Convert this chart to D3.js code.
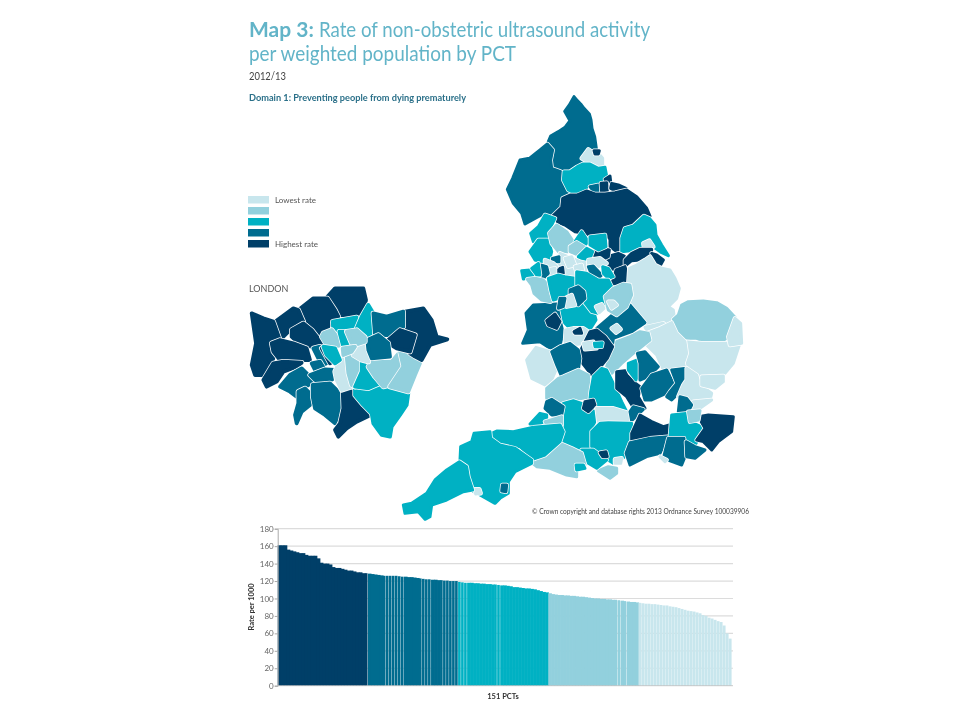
<!DOCTYPE html>
<html lang="en">
<head>
  <meta charset="UTF-8" />
  <title>Map 3: Non-obstetric ultrasound activity by PCT</title>
  <script src="https://d3js.org/d3.v7.min.js"></script>
  <style>
    body, html { margin: 0; padding: 0; background: #fff; }
    svg { display: block; filter: blur(0.45px); }
    text { font-family: Lato, Arial, sans-serif; }
  </style>
</head>
<body>
  <svg id="chart" width="960" height="720"></svg>
  <script>
    // bar chart data, highest rate first
    const rates = [
      161,161,161,156,155,154,153,152,152,150,149,149,149,146,141,140,140,139,136,135,135,134,133,132,132,131,130,130,129,129,
      128.5,128,127.5,127,126.5,126,126,126,126,126,125.5,125,125,124.5,124.5,124,123.5,123,122.5,122,122,121.5,121.5,121,121,120.5,120.5,120,120,120,
      119,118.5,118,118,118,117.5,117.5,117,117,116.5,116.5,116,116,115.5,115,115,114.5,114,113,113,112.5,112,111.5,111.5,111,110.5,109.5,108.5,107.5,107,
      106,105,104.5,104,104,103.5,103.5,103,103,102.5,102,102,101.5,101,100.5,100,100,99.5,99.5,99,99,98.5,98.5,98,97.5,97,96.5,96,96,95.5,
      95,94.5,94,94,93.5,93.5,93,92.5,92,92,91,90.5,90,89,88,87,86,85.5,85,84,83,81,80,78,77,75.5,74,73,69,60,54
    ];
    const bandEnds = [30, 60, 90, 120];
    // bars that show a hairline gap in the source
    const gapBars = [30,36,37,38,39,40,41,42,48,49,50,51,55,56,57,58,59,60,61,62,63,73,74,113,114,116];
    const yTicks = [0, 20, 40, 60, 80, 100, 120, 140, 160, 180];
    const legendLabels = ['Lowest rate', '', '', '', 'Highest rate'];
    const bandColors = ['#c8e6ed', '#92d0dd', '#00b1c3', '#006c8f', '#003f68'];

    // map outlines: [rate band 1-5, ring], traced per map sheet
    const northSheet = [
      [4, [[252,20],[262,32],[272,42],[282,55],[298,72],[303,90],[306,115],[314,140],[320,183],[305,180],[290,185],[284,195],[278,220],[255,232],[238,240],[222,232],[205,240],[187,232],[182,205],[192,178],[175,155],[182,138],[205,125],[225,112],[240,92],[224,64],[238,45]]],
      [4, [[172,162],[188,180],[182,210],[185,235],[212,245],[215,268],[235,305],[218,325],[212,355],[190,372],[160,372],[135,385],[105,402],[95,370],[70,340],[52,298],[68,265],[90,210],[118,205],[150,180]]],
      [1, [[275,205],[295,178],[315,192],[325,190],[338,205],[338,235],[325,230],[300,220]]],
      [5, [[312,182],[328,182],[325,192],[315,192]]],
      [3, [[222,245],[240,245],[262,230],[278,222],[300,222],[325,235],[345,232],[350,258],[335,272],[322,280],[298,285],[282,300],[258,312],[235,300],[220,270]]],
      [5, [[345,268],[360,258],[362,275],[350,278]]],
      [4, [[300,290],[325,285],[330,305],[315,308]]],
      [5, [[333,280],[350,278],[352,305],[335,310]]],
      [5, [[365,280],[385,285],[408,295],[405,303],[375,302],[362,295]]],
      [5, [[218,325],[240,315],[262,315],[290,303],[315,312],[345,312],[375,308],[410,300],[440,320],[470,355],[480,378],[458,378],[440,395],[425,408],[400,412],[392,440],[392,475],[380,485],[360,470],[360,448],[345,430],[325,430],[300,435],[285,430],[255,425],[225,405],[205,398],[188,378],[215,352]]],
      [3, [[462,378],[478,385],[495,405],[498,435],[515,465],[535,497],[515,488],[490,470],[470,455],[450,470],[420,482],[395,485],[395,445],[405,415],[430,408]]],
      [1, [[460,460],[478,452],[490,470],[475,478],[462,472]]],
      [5, [[360,498],[385,490],[403,498],[398,530],[378,540],[358,535],[352,515]]],
      [5, [[405,510],[425,490],[450,478],[485,478],[483,495],[450,510],[425,512],[405,528]]],
      [5, [[485,490],[500,495],[520,510],[510,528],[495,515]]],
      [5, [[378,540],[405,530],[418,575],[405,580],[365,582],[372,560]]],
      [5, [[310,485],[335,475],[358,480],[355,500],[345,505],[315,500]]]
    ];
    const northWestSheet = [
      [3, [[62,70],[85,50],[105,15],[135,25],[118,60],[115,85],[85,88],[70,95]]],
      [3, [[60,125],[85,90],[115,90],[125,125],[120,145],[100,158],[75,150]]],
      [2, [[118,70],[140,45],[170,65],[190,95],[175,125],[145,125],[125,100]]],
      [3, [[195,95],[215,65],[235,95],[225,105]]],
      [3, [[240,80],[285,75],[288,110],[265,120],[240,105]]],
      [2, [[180,110],[200,97],[230,115],[205,135],[180,125]]],
      [3, [[205,140],[230,115],[248,125],[240,145],[210,155]]],
      [1, [[150,130],[210,155],[235,160],[225,185],[195,195],[160,195],[145,175]]],
      [1, [[165,145],[185,140],[195,165],[175,170]]],
      [1, [[195,170],[215,165],[218,180],[200,188]]],
      [4, [[127,145],[147,140],[147,155],[128,155]]],
      [5, [[142,178],[158,172],[160,190],[145,192]]],
      [1, [[105,150],[130,160],[140,170],[125,175],[105,165]]],
      [1, [[110,180],[135,175],[135,195],[115,200]]],
      [4, [[92,165],[110,170],[115,190],[100,205],[90,185]]],
      [3, [[35,182],[60,180],[70,200],[40,207]]],
      [3, [[65,175],[85,160],[90,195],[80,195]]],
      [2, [[52,208],[75,205],[100,210],[115,225],[115,255],[122,275],[95,270],[72,250],[65,225]]],
      [3, [[115,205],[145,195],[165,200],[195,205],[195,230],[180,235],[165,260],[130,270],[122,240]]],
      [1, [[235,150],[270,145],[290,160],[260,172],[235,165]]],
      [4, [[235,170],[250,168],[275,195],[265,205],[245,195]]],
      [3, [[278,170],[295,175],[310,200],[295,205],[280,190]]],
      [3, [[200,185],[230,190],[265,210],[295,210],[305,230],[290,240],[283,290],[265,310],[245,305],[222,275],[200,225]]],
      [1, [[258,290],[275,283],[282,295],[268,308]]],
      [4, [[180,240],[205,230],[222,245],[225,265],[205,285],[180,265]]],
      [1, [[165,265],[185,255],[195,285],[170,290]]],
      [4, [[150,265],[165,265],[160,290],[145,295]]],
      [2, [[285,260],[310,235],[340,222],[360,225],[365,255],[350,290],[320,315],[295,300]]],
      [1, [[295,275],[310,275],[320,285],[305,295]]]
    ];
    const eastSheet = [
      [1, [[28,85],[50,75],[75,60],[90,50],[105,75],[125,85],[150,90],[165,115],[178,145],[170,175],[145,200],[160,210],[163,232],[130,250],[85,255],[70,245],[45,215],[30,195],[32,165],[25,130]]],
      [2, [[185,195],[205,185],[250,183],[290,188],[320,205],[345,232],[340,255],[355,290],[325,292],[295,310],[265,310],[230,295],[195,295],[170,275],[160,238],[175,225]]],
      [1, [[75,262],[130,250],[138,258],[90,285]]]
    ];
    const southSheet = [
      [1, [[855,125],[905,130],[965,130],[1000,130],[1018,135],[1000,190],[975,220],[900,228],[870,205],[855,190],[860,160]]],
      [1, [[985,110],[1005,55],[1022,70],[1025,130],[990,135]]],
      [1, [[740,100],[780,85],[815,68],[830,100],[855,125],[860,160],[850,190],[855,205],[825,215],[790,210],[770,165],[735,130]]],
      [2, [[745,100],[750,120],[700,160],[665,190],[630,225],[620,200],[630,165],[650,125],[690,110],[720,95]]],
      [4, [[590,85],[625,55],[670,15],[690,15],[735,68],[695,95],[640,115],[638,132],[615,105]]],
      [1, [[635,85],[650,75],[662,88],[648,98]]],
      [3, [[478,30],[500,20],[545,10],[580,30],[588,60],[570,88],[545,80],[510,85],[485,60]]],
      [4, [[378,40],[400,15],[470,12],[480,60],[490,100],[480,135],[450,145],[420,125],[368,130],[385,90]]],
      [5, [[440,62],[465,42],[480,65],[470,85],[445,75]]],
      [1, [[497,90],[520,85],[550,85],[565,95],[555,130],[515,135],[495,125]]],
      [5, [[522,95],[540,85],[545,100],[525,100]]],
      [5, [[570,95],[590,90],[615,110],[638,140],[622,175],[590,215],[575,225],[540,180],[545,145]]],
      [1, [[550,130],[580,125],[590,145],[555,148]]],
      [3, [[583,130],[607,128],[605,140],[585,140]]],
      [1, [[380,180],[408,142],[450,155],[470,205],[455,240],[435,255],[395,235]]],
      [4, [[455,155],[480,140],[510,130],[535,150],[540,175],[535,210],[505,215],[485,230],[470,195]]],
      [2, [[440,265],[475,235],[490,230],[535,210],[565,225],[570,270],[570,290],[520,300],[480,312],[440,295]]],
      [3, [[572,275],[580,230],[605,205],[620,210],[640,250],[665,305],[680,335],[640,325],[590,320],[570,295]]],
      [5, [[650,215],[675,212],[680,225],[700,245],[720,260],[715,290],[735,325],[700,322],[680,290],[650,265]]],
      [3, [[685,190],[712,180],[718,215],[708,240],[685,210]]],
      [4, [[712,160],[735,155],[775,200],[745,230],[720,240],[720,190]]],
      [4, [[725,265],[755,225],[800,210],[820,250],[810,275],[755,300],[735,300]]],
      [4, [[815,210],[860,205],[855,240],[845,255],[835,280],[815,300],[800,290],[810,275],[830,250]]],
      [1, [[860,205],[890,225],[900,255],[935,280],[930,300],[880,305],[855,290],[835,290],[850,255],[860,240]]],
      [1, [[905,230],[970,228],[970,245],[945,265],[905,255]]],
      [1, [[880,305],[935,300],[900,325],[875,325]]],
      [4, [[840,290],[860,295],[875,315],[865,335],[835,335]]],
      [3, [[490,310],[520,302],[545,310],[585,335],[587,360],[575,385],[578,440],[550,450],[515,440],[480,425],[495,380],[490,350]]],
      [5, [[555,305],[580,300],[585,315],[565,335],[550,325]]],
      [4, [[440,305],[455,298],[490,320],[485,345],[455,345],[435,325]]],
      [3, [[390,372],[420,340],[440,345],[440,360],[415,375]]],
      [2, [[435,365],[485,350],[485,375],[445,380]]],
      [1, [[590,325],[640,325],[690,340],[695,365],[625,365],[595,365]]],
      [4, [[690,335],[700,320],[730,328],[695,362]]],
      [3, [[600,370],[625,368],[695,370],[695,400],[685,420],[675,470],[640,490],[615,475],[595,450],[575,440],[575,395]]],
      [5, [[695,400],[720,345],[755,365],[790,380],[808,375],[808,405],[750,410],[695,425]]],
      [4, [[678,460],[690,428],[750,415],[805,410],[780,460],[740,470],[690,495]]],
      [3, [[815,345],[865,340],[870,365],[915,385],[885,435],[850,415],[810,408]]],
      [5, [[895,350],[925,345],[1000,350],[995,395],[955,425],[935,450],[910,425],[890,420],[915,385]]],
      [2, [[865,335],[900,332],[895,360],[870,365]]],
      [4, [[805,415],[852,415],[855,470],[845,495],[790,475],[795,455]]],
      [4, [[858,425],[885,440],[915,450],[885,475],[860,470]]],
      [1, [[780,470],[800,480],[795,485]]],
      [1, [[645,478],[665,475],[662,490],[645,490]]],
      [2, [[595,512],[625,500],[650,505],[650,520],[630,535]]],
      [3, [[545,450],[580,450],[600,465],[620,480],[590,505],[565,490]]],
      [5, [[600,458],[618,455],[622,470],[608,470]]],
      [2, [[398,490],[440,470],[480,430],[515,445],[545,460],[555,495],[530,505],[530,530],[500,525],[450,505],[410,500]]],
      [3, [[528,495],[550,495],[555,505],[530,510]]],
      [3, [[275,400],[290,393],[340,395],[400,382],[480,375],[490,395],[480,425],[435,465],[400,477],[360,440],[300,435],[272,410]]],
      [3, [[222,400],[270,395],[272,415],[300,435],[345,445],[395,480],[395,490],[345,515],[325,545],[325,580],[300,595],[285,610],[240,585],[220,575],[205,535],[200,495],[180,480],[182,440],[215,425]]],
      [1, [[222,568],[238,568],[242,580],[227,582]]],
      [4, [[307,555],[320,555],[318,575],[305,573]]],
      [3, [[178,485],[200,500],[205,530],[218,570],[190,575],[140,600],[95,615],[90,650],[75,658],[55,635],[15,640],[10,615],[35,610],[80,580],[105,540],[140,510]]]
    ];
    const londonSheet = [
      [5, [[262,50],[285,25],[370,25],[378,60],[370,100],[355,110],[300,105],[285,70]]],
      [5, [[178,88],[220,55],[262,55],[285,90],[295,110],[270,125],[258,165],[245,170],[210,130],[190,115]]],
      [5, [[105,125],[160,85],[175,90],[190,125],[160,140],[125,175],[115,170]]],
      [5, [[35,100],[70,115],[100,125],[118,175],[95,185],[90,205],[100,235],[90,260],[70,285],[45,285],[35,255],[48,190]]],
      [5, [[155,150],[190,130],[215,150],[250,195],[215,200],[185,195],[165,180],[155,170]]],
      [5, [[95,190],[120,180],[160,190],[200,205],[210,240],[190,240],[155,245],[120,240],[100,215]]],
      [5, [[100,250],[130,245],[185,248],[170,260],[130,275],[110,305],[80,320],[70,300]]],
      [4, [[220,205],[240,200],[275,240],[250,255],[235,235]]],
      [5, [[245,205],[265,225],[280,245],[270,250]]],
      [4, [[215,250],[240,245],[250,262],[225,270]]],
      [4, [[120,320],[150,285],[185,265],[210,290],[220,305],[190,325],[170,350],[150,335]]],
      [4, [[175,335],[195,325],[215,345],[210,375],[185,395],[170,430],[165,405],[175,370]]],
      [4, [[210,285],[255,268],[285,270],[290,290],[265,305],[225,300]]],
      [4, [[218,315],[270,310],[295,335],[305,355],[300,395],[285,430],[255,405],[225,385],[218,350]]],
      [5, [[308,330],[340,335],[345,365],[370,385],[392,405],[350,425],[320,445],[295,470],[285,450],[300,430],[310,385]]],
      [3, [[345,325],[395,330],[420,320],[505,340],[500,375],[480,405],[455,440],[450,470],[425,465],[400,430],[395,400],[370,375],[345,345]]],
      [1, [[300,240],[320,230],[325,280],[335,320],[305,330],[290,300],[285,275]]],
      [2, [[320,230],[355,230],[365,245],[360,270],[345,320],[335,315],[325,280]]],
      [3, [[365,245],[385,265],[400,290],[420,310],[385,325],[345,320],[365,275]]],
      [2, [[395,245],[455,245],[480,215],[485,260],[450,315],[430,320],[405,290],[385,260]]],
      [2, [[480,215],[510,225],[540,250],[525,285],[505,335],[450,320],[490,260]]],
      [1, [[340,205],[370,190],[385,215],[385,245],[365,240],[340,225]]],
      [3, [[278,125],[350,112],[345,145],[300,150],[280,150]]],
      [3, [[385,75],[400,100],[400,165],[375,170],[350,145],[365,110]]],
      [5, [[495,95],[550,85],[575,120],[590,170],[622,178],[570,195],[545,240],[525,230],[510,220],[530,165],[490,140]]],
      [4, [[400,100],[440,110],[490,95],[490,140],[450,165],[405,165]]],
      [5, [[445,180],[480,150],[525,165],[510,215],[470,205],[445,190]]],
      [4, [[382,180],[415,165],[445,190],[450,230],[395,235],[385,210]]],
      [2, [[250,160],[275,150],[295,175],[305,195],[285,200],[260,195],[245,170]]],
      [3, [[250,200],[285,205],[300,240],[285,250],[260,225]]],
      [3, [[298,155],[320,155],[330,195],[310,200]]],
      [2, [[320,155],[350,150],[375,172],[375,185],[345,195],[335,190]]],
      [2, [[308,205],[345,200],[335,215],[310,225]]]
    ];

    const svg = d3.select('#chart');

    // Titles, squeezed to the measured widths because the source face is narrower
    const fitted = (sel, w) => sel.attr('textLength', w).attr('lengthAdjust', 'spacingAndGlyphs');
    svg.append('text').attr('x', 249).attr('y', 36.5)
      .attr('font-size', 21).attr('font-weight', 700).attr('fill', '#62b4c8').text('Map 3:');
    svg.append('text').attr('x', 319).attr('y', 36.5).call(fitted, 331)
      .attr('font-size', 21).attr('fill', '#62b4c8').text('Rate of non-obstetric ultrasound activity');
    svg.append('text').attr('x', 249).attr('y', 61).call(fitted, 267)
      .attr('font-size', 21).attr('fill', '#62b4c8').text('per weighted population by PCT');
    svg.append('text').attr('x', 249).attr('y', 80).call(fitted, 37)
      .attr('font-size', 11.5).attr('fill', '#444').text('2012/13');
    svg.append('text').attr('x', 249).attr('y', 101).attr('font-weight', 700)
      .attr('font-size', 9.2).attr('fill', '#2b7089').text('Domain 1: Preventing people from dying prematurely');
    svg.append('text').attr('x', 249).attr('y', 291.5)
      .attr('font-size', 9).attr('fill', '#555').text('LONDON');
    svg.append('text').attr('x', 532).attr('y', 513.5).call(fitted, 217)
      .attr('font-size', 7.2).attr('fill', '#444').text('\u00A9 Crown copyright and database rights 2013 Ordnance Survey 100039906');

    // Legend
    const legendY = d3.scalePoint().domain(d3.range(5)).range([196, 240]);
    const legend = svg.append('g').selectAll('g').data(legendLabels).enter().append('g')
      .attr('transform', (d, i) => `translate(248,${legendY(i)})`);
    legend.append('rect').attr('width', 21).attr('height', 7.5)
      .attr('fill', (d, i) => bandColors[i]);
    legend.append('text').attr('x', 27).attr('y', 6.5)
      .attr('font-size', 8).attr('fill', '#555').text(d => d);

    // Map sheets, each traced at 3x from its own origin.
    // Each outline is grown a little in its own colour so neighbours meet,
    // with a white rim under it that reads as the boundary line.
    function drawSheet(sheet, originX, originY, grow) {
      const path = d3.geoPath(d3.geoIdentity().scale(1 / 3).translate([originX, originY]));
      const shape = d => path({ type: 'Polygon', coordinates: [d[1].concat([d[1][0]])] });
      const g = svg.append('g').selectAll('g').data(sheet).enter().append('g');
      g.append('path').attr('d', shape).attr('fill', '#fff')
        .attr('stroke', '#fff').attr('stroke-width', grow + 1.5).attr('stroke-linejoin', 'round');
      g.append('path').attr('d', shape).attr('fill', d => bandColors[d[0] - 1])
        .attr('stroke', d => bandColors[d[0] - 1]).attr('stroke-width', grow).attr('stroke-linejoin', 'round');
    }
    drawSheet(northSheet, 490, 90, 3);
    drawSheet(eastSheet, 620, 240, 3);
    drawSheet(southSheet, 400, 300, 3);
    drawSheet(northWestSheet, 510, 210, 3);
    drawSheet(londonSheet, 240, 280, 3.8);

    // Bar chart
    const x = d3.scaleBand().domain(d3.range(rates.length)).range([277.7, 731.7]);
    const y = d3.scaleLinear().domain([0, 180]).range([685.7, 528.7]);
    const bandOf = d3.scaleThreshold().domain(bandEnds).range(bandColors.slice().reverse());

    const grid = svg.append('g');
    grid.selectAll('line').data(yTicks.slice(1)).enter().append('line')
      .attr('x1', x.range()[0]).attr('x2', 733)
      .attr('y1', d => y(d)).attr('y2', d => y(d))
      .attr('stroke', '#dcdcdc').attr('stroke-width', 1.2);

    svg.append('g').selectAll('rect').data(rates).enter().append('rect')
      .attr('x', (d, i) => x(i))
      .attr('width', (d, i) => {
        if (i >= 120) return x.bandwidth() - 0.12;
        return gapBars.includes(i + 1) ? x.bandwidth() - 0.4 : x.bandwidth() + 0.6;
      })
      .attr('y', d => y(d))
      .attr('height', d => y(0) - y(d))
      .attr('fill', (d, i) => bandOf(i));

    const axis = svg.append('g').attr('transform', `translate(${x.range()[0]},0)`)
      .call(d3.axisLeft(y).tickValues(yTicks).tickSize(3).tickPadding(1));
    axis.selectAll('path, line').attr('stroke', '#aaa');
    axis.selectAll('text').attr('font-size', 8).attr('fill', '#666')
      .style('font-family', 'Lato, Arial, sans-serif');

    svg.append('line').attr('x1', x.range()[0]).attr('x2', 733)
      .attr('y1', y(0)).attr('y2', y(0)).attr('stroke', '#bbb').attr('stroke-width', 0.8);

    svg.append('text').attr('transform', 'translate(254,607) rotate(-90)')
      .attr('text-anchor', 'middle').attr('font-weight', 700).attr('font-size', 7.5)
      .attr('fill', '#333').text('Rate per 1000');
    svg.append('text').attr('x', 503).attr('y', 699)
      .attr('text-anchor', 'middle').attr('font-weight', 700).attr('font-size', 7.5)
      .attr('fill', '#333').text('151 PCTs');
  </script>
</body>
</html>
